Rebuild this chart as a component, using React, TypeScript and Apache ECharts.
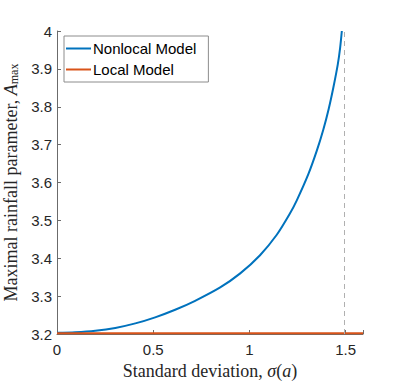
import React, { useEffect, useRef } from "react";
import * as echarts from "echarts";

const sigmaNonlocal = [0, 0.095, 0.199, 0.303, 0.407, 0.51, 0.614, 0.715, 0.848, 0.952, 1.055, 1.142, 1.208, 1.246, 1.306, 1.35, 1.384, 1.412, 1.436, 1.459, 1.471, 1.48];
const amaxNonlocal = [3.203, 3.2045, 3.2085, 3.216, 3.228, 3.244, 3.264, 3.287, 3.323, 3.36, 3.408, 3.462, 3.516, 3.553, 3.622, 3.684, 3.74, 3.795, 3.851, 3.912, 3.955, 4.0];
const sigmaLocal = [0, 1.59];
const amaxLocal = [3.202, 3.202];
const criticalSigma = 1.491;
const xTicks = [0, 0.5, 1, 1.5];

export default function App() {
  const ref = useRef<HTMLDivElement>(null);
  useEffect(() => {
    const chart = echarts.init(ref.current!, undefined, { renderer: "svg" });
    const sans = "Liberation Sans";
    const serif = "Liberation Serif";
    chart.setOption({
      animation: false,
      backgroundColor: "#fff",
      grid: { left: 57, right: 44, top: 31, bottom: 47, containLabel: false, outerBoundsMode: "none" },
      legend: {
        left: 64,
        top: 36,
        orient: "vertical",
        backgroundColor: "#fff",
        borderColor: "#8c8c8c",
        borderWidth: 1,
        borderRadius: 0,
        padding: [5, 12, 5, 2],
        itemGap: 6,
        itemWidth: 25,
        itemHeight: 2,
        icon: "rect",
        textStyle: { fontFamily: sans, fontSize: 15, color: "#000", padding: [0, 0, 0, -3] },
        data: ["Nonlocal Model", "Local Model"],
      },
      xAxis: {
        type: "value",
        min: 0,
        max: 1.59,
        interval: 0.5,
        name: "{n|Standard deviation, }{i|σ}{n|(}{i|a}{n|)}",
        nameLocation: "middle",
        nameGap: 26,
        nameTextStyle: {
          fontFamily: serif,
          fontSize: 18,
          color: "#262626",
          rich: {
            n: { fontFamily: serif, fontSize: 18, color: "#262626" },
            i: { fontFamily: serif, fontSize: 18, fontStyle: "italic", color: "#262626" },
          },
        },
        axisLine: { show: true, onZero: false, lineStyle: { color: "#6b6b6b", width: 1 } },
        axisTick: { show: true, inside: true, length: 4, lineStyle: { color: "#6b6b6b" } },
        axisLabel: {
          fontFamily: sans,
          fontSize: 15,
          color: "#262626",
          margin: 8,
          customValues: xTicks,
          formatter: (v: number) => String(v),
        },
        splitLine: { show: false },
      },
      yAxis: {
        type: "value",
        min: 3.2,
        max: 4,
        interval: 0.1,
        name: "{n|Maximal rainfall parameter, }{a|A}{s|max}",
        nameLocation: "middle",
        nameGap: 33,
        nameRotate: 90,
        nameTextStyle: {
          fontFamily: serif,
          fontSize: 18,
          color: "#262626",
          rich: {
            n: { fontFamily: serif, fontSize: 18, color: "#262626" },
            a: { fontFamily: serif, fontSize: 18, fontStyle: "italic", color: "#262626" },
            s: { fontFamily: serif, fontSize: 12, color: "#262626", verticalAlign: "bottom", padding: [7, 0, 0, 0] },
          },
        },
        axisLine: { show: true, lineStyle: { color: "#6b6b6b", width: 1 } },
        axisTick: { show: true, inside: true, length: 4, lineStyle: { color: "#6b6b6b" } },
        axisLabel: {
          fontFamily: sans,
          fontSize: 15,
          color: "#262626",
          margin: 5,
          formatter: (v: number) => (Math.abs(v - 4) < 1e-9 ? "4" : v.toFixed(1)),
        },
        splitLine: { show: false },
      },
      series: [
        {
          name: "Nonlocal Model",
          type: "line",
          data: sigmaNonlocal.map((s, i) => [s, amaxNonlocal[i]]),
          smooth: 0.3,
          showSymbol: false,
          symbol: "none",
          lineStyle: { color: "#0072BD", width: 2 },
          itemStyle: { color: "#0072BD" },
          markLine: {
            silent: true,
            symbol: "none",
            label: { show: false },
            lineStyle: { color: "#b0b0b0", type: [5, 4], width: 1 },
            data: [{ xAxis: criticalSigma }],
          },
          z: 3,
        },
        {
          name: "Local Model",
          type: "line",
          data: sigmaLocal.map((s, i) => [s, amaxLocal[i]]),
          showSymbol: false,
          symbol: "none",
          lineStyle: { color: "#D95319", width: 2 },
          itemStyle: { color: "#D95319" },
          z: 4,
        },
      ],
    });
    return () => chart.dispose();
  }, []);
  return <div ref={ref} style={{ position: "fixed", left: 0, top: 0, width: 407, height: 381 }} />;
}
